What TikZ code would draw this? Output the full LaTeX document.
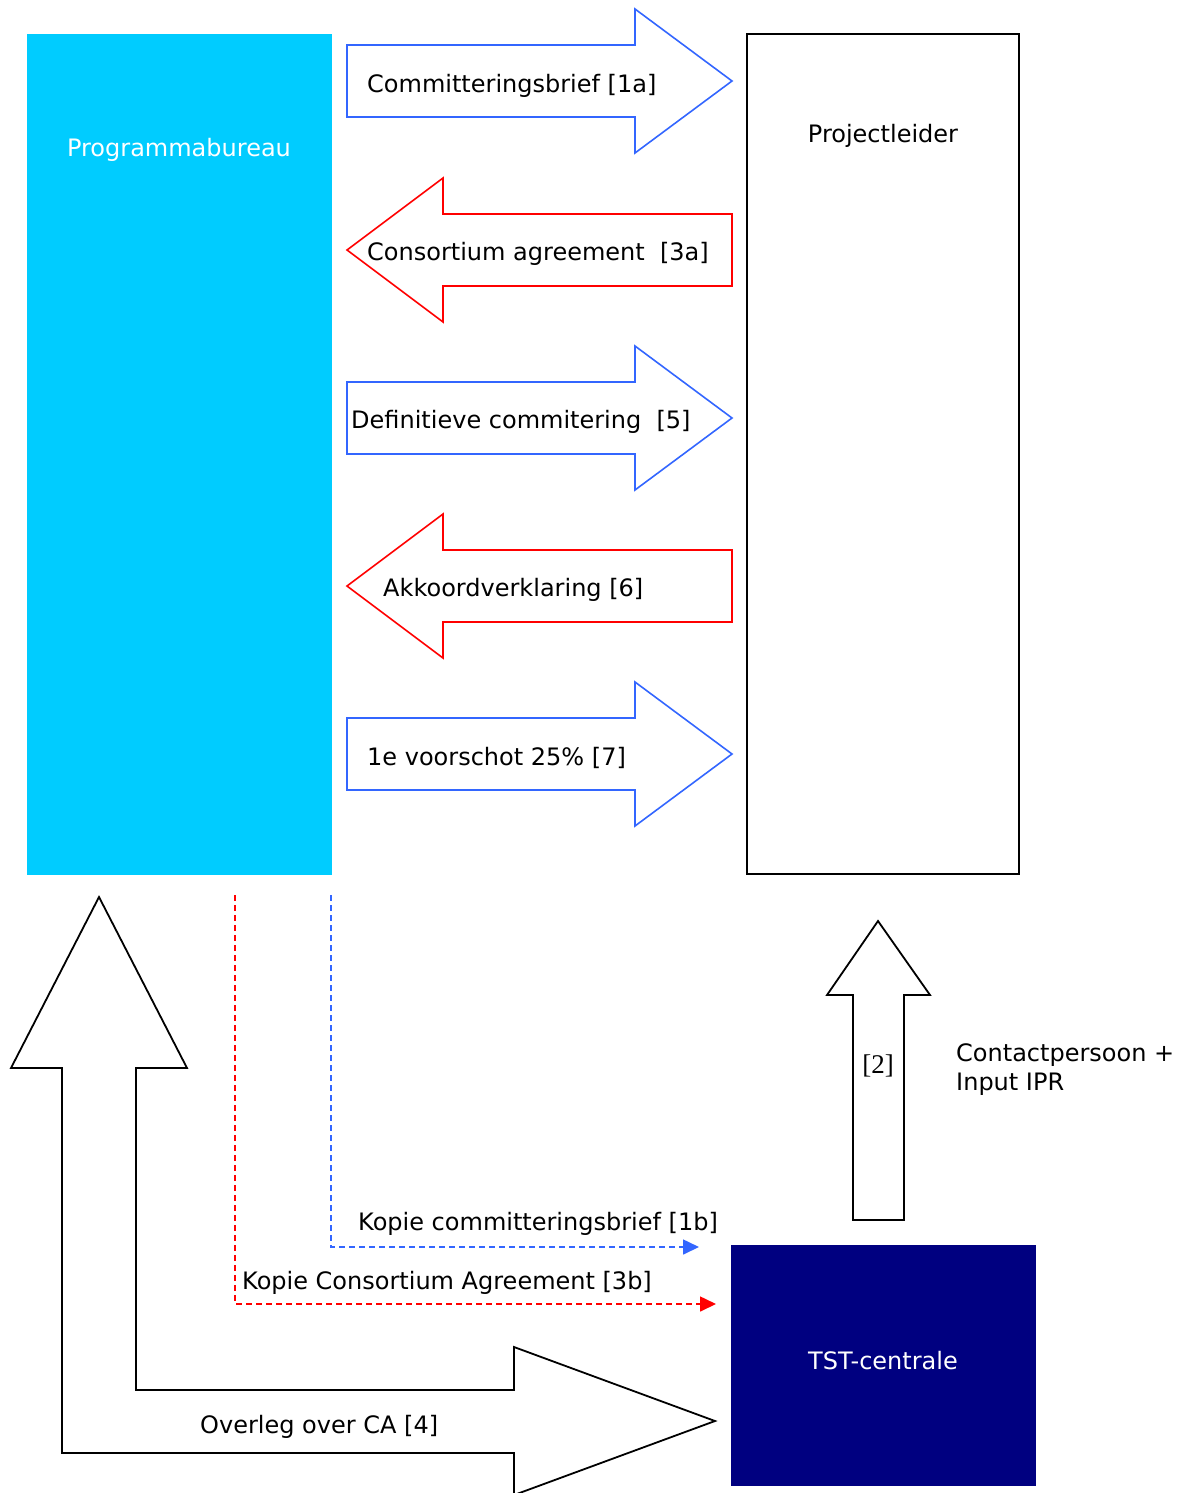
\documentclass[tikz,border=0pt]{standalone}
\usepackage{fontspec}
\setmainfont{DejaVu Sans}
\newfontfamily\timesfont{Liberation Serif}
\usetikzlibrary{arrows.meta}
\definecolor{pbcyan}{HTML}{00CCFF}
\definecolor{arblue}{HTML}{3366FF}
\definecolor{arred}{HTML}{FF0000}
\definecolor{tstnavy}{HTML}{000080}
\tikzset{
  lbl/.style={font=\fontsize{24}{29}\selectfont, inner sep=0pt, anchor=west, yshift=-3pt},
  blueshape/.style={draw=arblue, line width=1.6pt, line join=miter},
  redshape/.style={draw=arred, line width=1.6pt, line join=miter},
  blackshape/.style={draw=black, line width=1.8pt, line join=miter},
  dashblue/.style={draw=arblue, line width=1.6pt, dash pattern=on 6pt off 4pt, -{Triangle[length=16pt,width=15pt]}},
  dashred/.style={draw=arred, line width=1.6pt, dash pattern=on 6pt off 4pt, -{Triangle[length=16pt,width=15pt]}},
}
\begin{document}
\begin{tikzpicture}[x=1pt,y=-1pt]
\useasboundingbox (0,0) rectangle (1176,1493);
\clip (0,0) rectangle (1176,1493);

% Programmabureau
\fill[pbcyan] (27,34) rectangle (332,875);
\node[lbl, anchor=center, text=white] (pb) at (179,147) {Programmabureau};

% Projectleider
\draw[blackshape] (747,34) rectangle (1019,874);
\node[lbl, anchor=center] (pl) at (883,133) {Projectleider};

% Blue right arrows
\foreach \c in {81, 418, 754}{
  \draw[blueshape] (347,\c-36) -- (635,\c-36) -- (635,\c-72) -- (732,\c) -- (635,\c+72) -- (635,\c+36) -- (347,\c+36) -- cycle;
}
% Red left arrows
\foreach \c in {250, 586}{
  \draw[redshape] (732,\c-36) -- (443,\c-36) -- (443,\c-72) -- (347,\c) -- (443,\c+72) -- (443,\c+36) -- (732,\c+36) -- cycle;
}
\node[lbl] (t1a) at (367,83) {Committeringsbrief [1a]};
\node[lbl] (t3a) at (367,251) {Consortium agreement\ \ [3a]};
\node[lbl] (t5) at (351,419) {Definitieve commitering\ \ [5]};
\node[lbl] (t6) at (383,587) {Akkoordverklaring [6]};
\node[lbl] (t7) at (367,755) {1e voorschot 25\% [7]};

% TST-centrale
\fill[tstnavy] (731,1245) rectangle (1036,1486);
\node[lbl, anchor=center, text=white] (tst) at (883,1358) {TST-centrale};

% Up arrow [2]
\draw[blackshape] (878,921) -- (930,995) -- (904,995) -- (904,1220) -- (853,1220) -- (853,995) -- (827,995) -- cycle;
\node[font=\timesfont\fontsize{27}{30}\selectfont, inner sep=0pt] (t2) at (878,1066) {[2]};
\node[lbl, align=left, anchor=north west] (tcp) at (956,1040) {Contactpersoon +\\Input IPR};

% Big L arrow [4]
\draw[blackshape] (99,897) -- (187,1068) -- (136,1068) -- (136,1390) -- (514,1390) -- (514,1347) -- (715,1421) -- (514,1495) -- (514,1453) -- (62,1453) -- (62,1068) -- (11,1068) -- cycle;
\node[lbl] (t4) at (200,1424) {Overleg over CA [4]};

% Dashed copies
\coordinate (bstart) at (331,895);
\coordinate (bcorner) at (331,1247);
\coordinate (bend) at (699,1247);
\coordinate (rstart) at (235,895);
\coordinate (rcorner) at (235,1304);
\coordinate (rend) at (716,1304);
\draw[dashblue] (bstart) -- (bcorner) -- (bend);
\draw[dashred] (rstart) -- (rcorner) -- (rend);
\node[lbl] (t1b) at (358,1221) {Kopie committeringsbrief [1b]};
\node[lbl] (t3b) at (242,1280) {Kopie Consortium Agreement [3b]};
\end{tikzpicture}
\end{document}
